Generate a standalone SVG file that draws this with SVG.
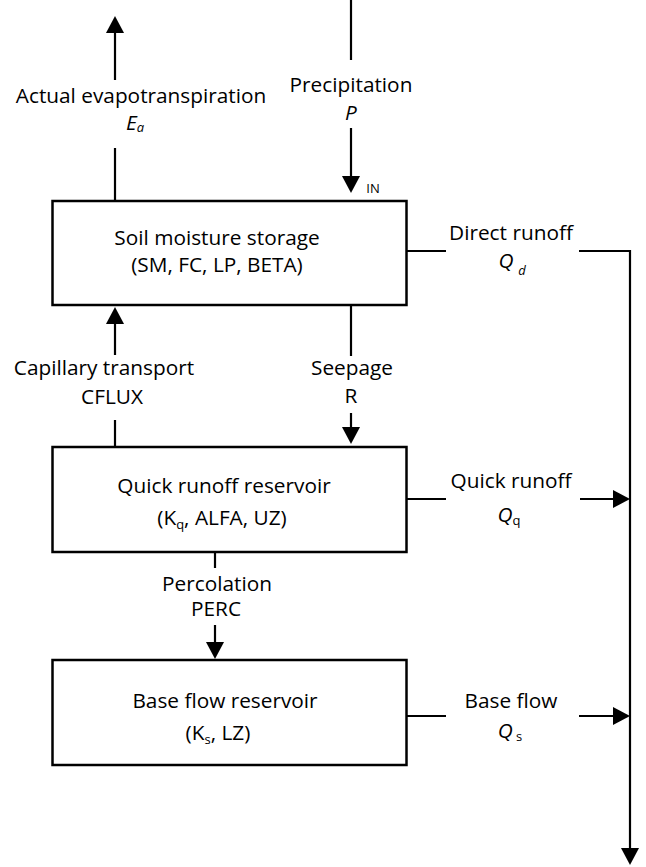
<svg xmlns="http://www.w3.org/2000/svg" width="646" height="867" viewBox="0 0 646 867">
<style>
  text { font-family: "Open Sans", "Liberation Sans", sans-serif; font-size: 20.8px; fill: #000; text-anchor: middle; }
  .it { font-style: italic; }
  .sub { font-size: 13px; }
  .box { fill: #fff; stroke: #000; stroke-width: 2.5; }
  .ln { fill: none; stroke: #000; stroke-width: 2.2; }
  .ar { marker-end: url(#ah); }
</style>
<defs>
  <marker id="ah" markerUnits="userSpaceOnUse" viewBox="-10 -10 20 20" refX="0" refY="0" markerWidth="20" markerHeight="20" orient="auto">
    <path d="M-9,-9 L8,0 L-9,9 Z" fill="#000"/>
  </marker>
</defs>
<g id="connectors">
  <line class="ln" x1="115" y1="200" x2="115" y2="148"/>
  <line class="ln ar" x1="115" y1="80" x2="115" y2="24"/>
  <line class="ln" x1="351" y1="0" x2="351" y2="60"/>
  <line class="ln ar" x1="351" y1="128" x2="351" y2="185"/>
  <line class="ln" x1="115" y1="447" x2="115" y2="420"/>
  <line class="ln ar" x1="115" y1="355" x2="115" y2="315"/>
  <line class="ln" x1="351" y1="305" x2="351" y2="356"/>
  <line class="ln ar" x1="351" y1="413" x2="351" y2="436"/>
  <line class="ln" x1="407" y1="251" x2="446" y2="251"/>
  <polyline class="ln ar" points="579,251 630,251 630,857"/>
  <line class="ln" x1="407" y1="499" x2="446" y2="499"/>
  <line class="ln ar" x1="580" y1="499" x2="622" y2="499"/>
  <line class="ln" x1="215" y1="552" x2="215" y2="568"/>
  <line class="ln ar" x1="215" y1="625" x2="215" y2="651"/>
  <line class="ln" x1="407" y1="716" x2="446" y2="716"/>
  <line class="ln ar" x1="579" y1="716" x2="622" y2="716"/>
</g>
<g id="evapotranspiration">
  <text x="141" y="103">Actual evapotranspiration</text>
  <text x="135" y="130"><tspan class="it">E</tspan><tspan class="it sub" dy="2">a</tspan></text>
</g>
<g id="precipitation">
  <text x="351" y="92">Precipitation</text>
  <text class="it" x="351" y="120">P</text>
  <text class="sub" x="373" y="193">IN</text>
</g>
<g id="soil-moisture">
  <rect class="box" x="52.5" y="201" width="354" height="104"/>
  <text x="217" y="245">Soil moisture storage</text>
  <text x="217" y="272">(SM, FC, LP, BETA)</text>
</g>
<g id="direct-runoff">
  <text x="511" y="240">Direct runoff</text>
  <text x="506" y="268"><tspan class="it">Q</tspan></text>
  <text class="it sub" x="522" y="275">d</text>
</g>
<g id="capillary">
  <text x="104" y="375">Capillary transport</text>
  <text x="112" y="404">CFLUX</text>
</g>
<g id="seepage">
  <text x="352" y="375">Seepage</text>
  <text x="351" y="403">R</text>
</g>
<g id="quick-reservoir">
  <rect class="box" x="52.5" y="447" width="354" height="105"/>
  <text x="224" y="493">Quick runoff reservoir</text>
  <text x="222" y="525">(K<tspan class="sub" dy="4">q</tspan><tspan dy="-4">, ALFA, UZ)</tspan></text>
</g>
<g id="quick-runoff">
  <text x="511" y="488">Quick runoff</text>
  <text x="509" y="522"><tspan class="it">Q</tspan><tspan class="sub" dy="3">q</tspan></text>
</g>
<g id="percolation">
  <text x="217" y="591">Percolation</text>
  <text x="216" y="616">PERC</text>
</g>
<g id="base-reservoir">
  <rect class="box" x="52.5" y="660" width="354" height="105"/>
  <text x="225" y="708">Base flow reservoir</text>
  <text x="218" y="740">(K<tspan class="sub" dy="4">s</tspan><tspan dy="-4">, LZ)</tspan></text>
</g>
<g id="base-flow">
  <text x="511" y="708">Base flow</text>
  <text x="510" y="738"><tspan class="it">Q</tspan><tspan class="sub" dy="3"> s</tspan></text>
</g>
</svg>
